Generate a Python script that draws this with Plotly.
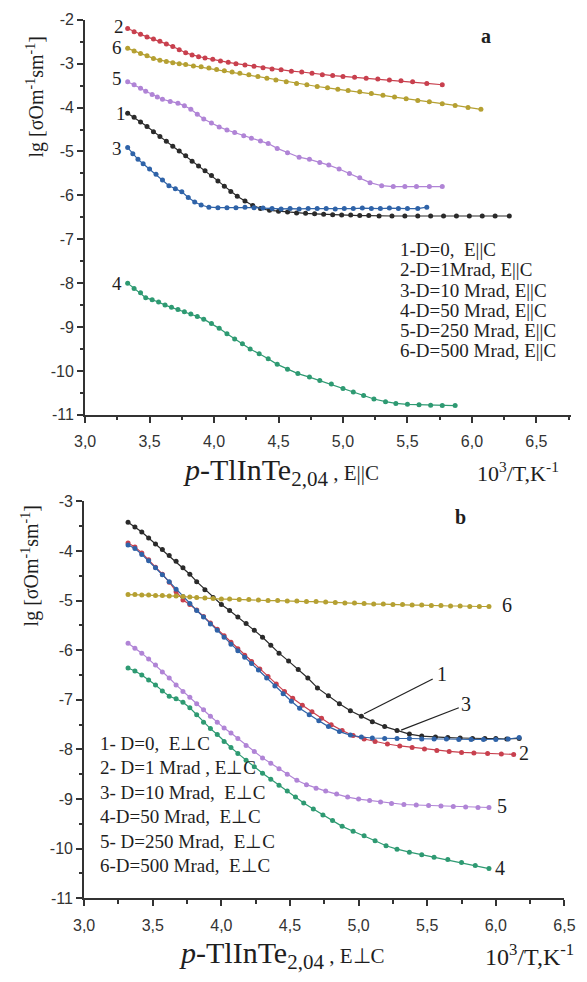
import plotly.graph_objects as go

W, H = 587, 982


def px(x):
    return x / W


def py(y):
    return 1 - y / H


# ---------------- Panel a : E || C ----------------
x_a1 = [3.33, 3.38, 3.43, 3.48, 3.53, 3.58, 3.63, 3.68, 3.73, 3.78, 3.83, 3.88, 3.93, 3.98, 4.03,
        4.08, 4.13, 4.18, 4.24, 4.30, 4.36, 4.43, 4.50, 4.57, 4.64, 4.71, 4.78, 4.85, 4.92, 4.99,
        5.06, 5.13, 5.20, 5.28, 5.38, 5.48, 5.58, 5.68, 5.78, 5.88, 5.98, 6.08, 6.18, 6.29]
y_a1 = [-4.13, -4.22, -4.33, -4.43, -4.55, -4.66, -4.77, -4.88, -4.99, -5.10, -5.22, -5.33, -5.44,
        -5.55, -5.67, -5.79, -5.91, -6.02, -6.13, -6.23, -6.30, -6.34, -6.36, -6.38, -6.40, -6.41,
        -6.42, -6.43, -6.44, -6.45, -6.45, -6.46, -6.46, -6.47, -6.47, -6.47, -6.47, -6.47, -6.47,
        -6.47, -6.47, -6.47, -6.47, -6.47]

x_a2 = [3.33, 3.38, 3.43, 3.48, 3.53, 3.58, 3.63, 3.68, 3.73, 3.78, 3.83, 3.88, 3.93, 3.99, 4.05,
        4.11, 4.17, 4.24, 4.31, 4.38, 4.45, 4.52, 4.60, 4.68, 4.76, 4.84, 4.92, 5.00, 5.09, 5.18,
        5.27, 5.36, 5.45, 5.54, 5.65, 5.77]
y_a2 = [-2.20, -2.27, -2.33, -2.39, -2.44, -2.49, -2.55, -2.61, -2.68, -2.75, -2.80, -2.84, -2.87,
        -2.90, -2.94, -2.97, -3.00, -3.03, -3.06, -3.09, -3.12, -3.14, -3.17, -3.19, -3.22, -3.25,
        -3.27, -3.29, -3.31, -3.33, -3.35, -3.37, -3.39, -3.41, -3.45, -3.48]

x_a3 = [3.33, 3.37, 3.41, 3.45, 3.50, 3.55, 3.60, 3.65, 3.70, 3.75, 3.80, 3.85, 3.90, 3.96, 4.03,
        4.10, 4.17, 4.24, 4.31, 4.38, 4.45, 4.52, 4.59, 4.66, 4.73, 4.80, 4.87, 4.94, 5.01, 5.08,
        5.15, 5.22, 5.29, 5.36, 5.43, 5.50, 5.58, 5.65]
y_a3 = [-4.91, -5.05, -5.18, -5.28, -5.40, -5.52, -5.65, -5.78, -5.85, -5.92, -6.05, -6.15, -6.22,
        -6.27, -6.28, -6.28, -6.28, -6.27, -6.28, -6.29, -6.30, -6.31, -6.30, -6.31, -6.30, -6.30,
        -6.30, -6.31, -6.30, -6.30, -6.29, -6.30, -6.30, -6.29, -6.30, -6.30, -6.30, -6.27]

x_a4 = [3.33, 3.38, 3.43, 3.47, 3.52, 3.57, 3.62, 3.67, 3.72, 3.77, 3.82, 3.87, 3.92, 3.98, 4.04,
        4.10, 4.16, 4.22, 4.28, 4.35, 4.42, 4.49, 4.57, 4.65, 4.74, 4.82, 4.91, 5.00, 5.08, 5.16,
        5.24, 5.33, 5.41, 5.50, 5.59, 5.68, 5.77, 5.87]
y_a4 = [-8.00, -8.12, -8.22, -8.33, -8.38, -8.43, -8.50, -8.55, -8.60, -8.65, -8.70, -8.76, -8.82,
        -8.92, -9.03, -9.15, -9.27, -9.38, -9.50, -9.61, -9.72, -9.85, -9.96, -10.06, -10.14,
        -10.22, -10.30, -10.40, -10.48, -10.56, -10.64, -10.70, -10.74, -10.76, -10.77, -10.78,
        -10.79, -10.79]

x_a5 = [3.33, 3.38, 3.43, 3.47, 3.52, 3.56, 3.60, 3.66, 3.72, 3.77, 3.82, 3.87, 3.92, 3.98, 4.04,
        4.10, 4.16, 4.23, 4.29, 4.36, 4.42, 4.49, 4.57, 4.66, 4.74, 4.82, 4.89, 4.97, 5.05, 5.13,
        5.21, 5.30, 5.39, 5.48, 5.57, 5.67, 5.77]
y_a5 = [-3.41, -3.48, -3.56, -3.63, -3.70, -3.76, -3.81, -3.86, -3.90, -3.96, -4.04, -4.15, -4.26,
        -4.35, -4.44, -4.51, -4.57, -4.64, -4.70, -4.76, -4.82, -4.93, -5.03, -5.13, -5.18, -5.25,
        -5.31, -5.40, -5.50, -5.60, -5.71, -5.78, -5.80, -5.80, -5.80, -5.80, -5.80]

x_a6 = [3.33, 3.38, 3.43, 3.48, 3.53, 3.58, 3.63, 3.68, 3.73, 3.78, 3.84, 3.90, 3.96, 4.02, 4.08,
        4.14, 4.20, 4.27, 4.34, 4.41, 4.48, 4.56, 4.64, 4.72, 4.80, 4.88, 4.96, 5.04, 5.13, 5.22,
        5.31, 5.40, 5.49, 5.58, 5.67, 5.77, 5.87, 5.97, 6.07]
y_a6 = [-2.65, -2.71, -2.77, -2.82, -2.88, -2.92, -2.95, -2.98, -3.00, -3.02, -3.05, -3.07, -3.10,
        -3.13, -3.16, -3.19, -3.22, -3.25, -3.29, -3.33, -3.37, -3.41, -3.45, -3.48, -3.52, -3.55,
        -3.58, -3.61, -3.64, -3.68, -3.72, -3.76, -3.80, -3.84, -3.87, -3.91, -3.95, -4.00, -4.04]

# ---------------- Panel b : E ⊥ C ----------------
x_b1 = [3.32, 3.37, 3.42, 3.47, 3.52, 3.57, 3.62, 3.67, 3.72, 3.77, 3.82, 3.88, 3.94, 4.00, 4.06,
        4.12, 4.18, 4.24, 4.30, 4.36, 4.42, 4.49, 4.56, 4.63, 4.70, 4.78, 4.86, 4.94, 5.02, 5.10,
        5.19, 5.28, 5.37, 5.46, 5.56, 5.65, 5.74, 5.83, 5.92, 6.00, 6.08, 6.17]
y_b1 = [-3.42, -3.52, -3.62, -3.74, -3.86, -3.97, -4.09, -4.21, -4.34, -4.47, -4.62, -4.78, -4.94,
        -5.08, -5.20, -5.33, -5.46, -5.60, -5.74, -5.90, -6.06, -6.22, -6.39, -6.56, -6.76, -6.92,
        -7.08, -7.22, -7.33, -7.44, -7.54, -7.62, -7.69, -7.73, -7.75, -7.76, -7.77, -7.78, -7.78,
        -7.78, -7.79, -7.78]

x_b2 = [3.32, 3.37, 3.42, 3.47, 3.52, 3.57, 3.62, 3.67, 3.72, 3.77, 3.82, 3.87, 3.92, 3.97, 4.02,
        4.07, 4.12, 4.17, 4.22, 4.28, 4.34, 4.40, 4.46, 4.52, 4.59, 4.66, 4.73, 4.80, 4.88, 4.96,
        5.04, 5.12, 5.21, 5.30, 5.39, 5.48, 5.57, 5.66, 5.75, 5.84, 5.94, 6.04, 6.13]
y_b2 = [-3.84, -3.92, -4.04, -4.18, -4.33, -4.47, -4.63, -4.82, -4.99, -5.08, -5.19, -5.32, -5.45,
        -5.58, -5.71, -5.84, -5.97, -6.10, -6.23, -6.38, -6.53, -6.68, -6.83, -6.97, -7.11, -7.24,
        -7.37, -7.50, -7.62, -7.72, -7.79, -7.84, -7.89, -7.93, -7.96, -7.99, -8.02, -8.04, -8.06,
        -8.07, -8.08, -8.09, -8.10]

x_b3 = [3.32, 3.37, 3.42, 3.47, 3.52, 3.57, 3.62, 3.67, 3.72, 3.77, 3.82, 3.87, 3.92, 3.97, 4.02,
        4.07, 4.12, 4.17, 4.22, 4.27, 4.33, 4.39, 4.45, 4.51, 4.57, 4.64, 4.71, 4.78, 4.86, 4.94,
        5.02, 5.10, 5.19, 5.28, 5.37, 5.46, 5.55, 5.64, 5.73, 5.82, 5.91, 6.00, 6.09, 6.17]
y_b3 = [-3.88, -3.95, -4.07, -4.20, -4.34, -4.48, -4.62, -4.77, -4.92, -5.06, -5.20, -5.33, -5.47,
        -5.60, -5.74, -5.88, -6.01, -6.14, -6.27, -6.40, -6.56, -6.72, -6.88, -7.03, -7.17, -7.30,
        -7.42, -7.54, -7.64, -7.71, -7.75, -7.77, -7.78, -7.78, -7.78, -7.79, -7.79, -7.79, -7.80,
        -7.80, -7.80, -7.80, -7.79, -7.76]

x_b4 = [3.32, 3.37, 3.42, 3.47, 3.52, 3.57, 3.62, 3.67, 3.72, 3.77, 3.82, 3.87, 3.92, 3.97, 4.02,
        4.07, 4.12, 4.18, 4.24, 4.30, 4.36, 4.42, 4.48, 4.54, 4.60, 4.67, 4.74, 4.81, 4.88, 4.96,
        5.04, 5.12, 5.20, 5.28, 5.37, 5.46, 5.55, 5.65, 5.75, 5.85, 5.95]
y_b4 = [-6.36, -6.42, -6.50, -6.60, -6.70, -6.82, -6.93, -6.98, -7.05, -7.16, -7.30, -7.45, -7.58,
        -7.70, -7.84, -7.96, -8.08, -8.22, -8.35, -8.48, -8.60, -8.72, -8.84, -8.96, -9.08, -9.20,
        -9.32, -9.43, -9.55, -9.65, -9.74, -9.84, -9.94, -10.01, -10.07, -10.12, -10.17, -10.22,
        -10.28, -10.34, -10.40]

x_b5 = [3.32, 3.37, 3.42, 3.47, 3.52, 3.57, 3.62, 3.67, 3.72, 3.77, 3.82, 3.87, 3.92, 3.97, 4.02,
        4.07, 4.12, 4.18, 4.24, 4.30, 4.36, 4.42, 4.48, 4.55, 4.62, 4.69, 4.76, 4.84, 4.92, 5.00,
        5.08, 5.16, 5.24, 5.33, 5.42, 5.51, 5.60, 5.69, 5.78, 5.87, 5.95]
y_b5 = [-5.86, -5.96, -6.06, -6.18, -6.30, -6.44, -6.56, -6.70, -6.83, -6.95, -7.08, -7.20, -7.33,
        -7.45, -7.57, -7.67, -7.78, -7.92, -8.04, -8.17, -8.28, -8.39, -8.50, -8.62, -8.71, -8.78,
        -8.84, -8.90, -8.96, -9.00, -9.03, -9.06, -9.09, -9.11, -9.12, -9.13, -9.14, -9.15, -9.16,
        -9.17, -9.17]

x_b6 = [3.32, 3.37, 3.42, 3.47, 3.52, 3.57, 3.62, 3.67, 3.72, 3.77, 3.82, 3.88, 3.94, 4.00, 4.06,
        4.13, 4.20, 4.27, 4.34, 4.41, 4.48, 4.55, 4.62, 4.69, 4.76, 4.83, 4.90, 4.97, 5.04, 5.11,
        5.18, 5.25, 5.32, 5.39, 5.46, 5.53, 5.60, 5.67, 5.74, 5.81, 5.88, 5.95]
y_b6 = [-4.88, -4.88, -4.89, -4.89, -4.90, -4.90, -4.91, -4.91, -4.92, -4.93, -4.94, -4.95, -4.96,
        -4.97, -4.97, -4.98, -4.98, -4.99, -5.00, -5.00, -5.01, -5.01, -5.02, -5.02, -5.03, -5.04,
        -5.05, -5.05, -5.06, -5.07, -5.07, -5.08, -5.08, -5.09, -5.09, -5.10, -5.10, -5.11, -5.11,
        -5.12, -5.12, -5.12]

curve_colors = ["#2a2a2a", "#c8404e", "#2f63a8", "#2e9a72", "#b084d6", "#b5a032"]

legend_a = ["1-D=0,\u00a0\u00a0E||C", "2-D=1Mrad, E||C", "3-D=10 Mrad, E||C",
            "4-D=50 Mrad, E||C", "5-D=250 Mrad, E||C", "6-D=500 Mrad, E||C"]
legend_b = ["1- D=0,\u00a0\u00a0E⊥C", "2- D=1 Mrad , E⊥C", "3- D=10 Mrad,\u00a0\u00a0E⊥C",
            "4-D=50 Mrad,\u00a0\u00a0E⊥C", "5- D=250 Mrad,\u00a0\u00a0E⊥C", "6-D=500 Mrad,\u00a0\u00a0E⊥C"]

x_tickvals_a = [3.0, 3.5, 4.0, 4.5, 5.0, 5.5, 6.0, 6.5]
x_ticktext = ["3,0", "3,5", "4,0", "4,5", "5,0", "5,5", "6,0", "6,5"]
x_minor = [3.25, 3.75, 4.25, 4.75, 5.25, 5.75, 6.25, 6.75]
y_tickvals_a = [-11, -10, -9, -8, -7, -6, -5, -4, -3, -2]
y_tickvals_b = [-11, -10, -9, -8, -7, -6, -5, -4, -3]
y_minor_a = [-10.5, -9.5, -8.5, -7.5, -6.5, -5.5, -4.5, -3.5, -2.5]
y_minor_b = [-10.5, -9.5, -8.5, -7.5, -6.5, -5.5, -4.5, -3.5]

series_a = [(x_a1, y_a1), (x_a2, y_a2), (x_a3, y_a3), (x_a4, y_a4), (x_a5, y_a5), (x_a6, y_a6)]
series_b = [(x_b1, y_b1), (x_b2, y_b2), (x_b3, y_b3), (x_b4, y_b4), (x_b5, y_b5), (x_b6, y_b6)]

fig = go.Figure()
for (xs, ys), c in zip(series_a, curve_colors):
    fig.add_trace(go.Scatter(x=xs, y=ys, mode="lines+markers", xaxis="x", yaxis="y",
                             line=dict(color=c, width=1.2), marker=dict(size=5, color=c),
                             showlegend=False, hoverinfo="skip"))
for (xs, ys), c in zip(series_b, curve_colors):
    fig.add_trace(go.Scatter(x=xs, y=ys, mode="lines+markers", xaxis="x2", yaxis="y2",
                             line=dict(color=c, width=1.2), marker=dict(size=5, color=c),
                             showlegend=False, hoverinfo="skip"))

AX = "#333333"
tickfont = dict(family="Liberation Sans, Arial, sans-serif", size=16, color=AX)
serif = "Liberation Serif, Times New Roman, serif"


def xaxis_cfg(domain, rng, anchor, minor_vals):
    return dict(domain=domain, range=rng, anchor=anchor, showline=True, linecolor=AX, linewidth=2,
                ticks="outside", ticklen=6, tickwidth=1.5, tickcolor=AX, ticklabelstandoff=5,
                tickmode="array", tickvals=x_tickvals_a, ticktext=x_ticktext,
                minor=dict(ticks="outside", ticklen=3.5, tickwidth=1.5, tickcolor=AX,
                           tickmode="array", tickvals=minor_vals),
                showgrid=False, zeroline=False, tickfont=tickfont, fixedrange=True)


def yaxis_cfg(domain, rng, anchor, vals, minor_vals):
    return dict(domain=domain, range=rng, anchor=anchor, showline=True, linecolor=AX, linewidth=2,
                ticks="outside", ticklen=6, tickwidth=1.5, tickcolor=AX,
                tickmode="array", tickvals=vals, ticktext=[str(v) for v in vals],
                minor=dict(ticks="outside", ticklen=3.5, tickwidth=1.5, tickcolor=AX,
                           tickmode="array", tickvals=minor_vals),
                showgrid=False, zeroline=False, tickfont=tickfont, fixedrange=True)


fig.update_layout(
    width=W, height=H, margin=dict(l=0, r=0, t=0, b=0),
    paper_bgcolor="white", plot_bgcolor="white",
    xaxis=xaxis_cfg([px(77), px(582)], [3.0, 6.77], "y", x_minor),
    yaxis=yaxis_cfg([py(414), py(12)], [-11, -2], "x", y_tickvals_a, y_minor_a),
    xaxis2=xaxis_cfg([px(76), px(575)], [3.0, 6.5], "y2", x_minor[:-1]),
    yaxis2=yaxis_cfg([py(906), py(502)], [-11, -3], "x2", y_tickvals_b, y_minor_b),
)

TXT = "#1e1e1e"
ann = []


def add_text(x, y, text, size, xanchor="center", yanchor="middle", angle=0, family=serif):
    ann.append(dict(x=px(x), y=py(y), xref="paper", yref="paper", text=text, showarrow=False,
                    xanchor=xanchor, yanchor=yanchor, textangle=angle,
                    font=dict(family=family, size=size, color=TXT)))


# y axis titles
add_text(25, 91, "lg [σOm<sup>-1</sup>sm<sup>-1</sup>]", 20, angle=-90)
add_text(20, 568, "lg [σOm<sup>-1</sup>sm<sup>-1</sup>]", 20, angle=-90)
# x axis titles
add_text(281, 472, "<i>p</i>-TlInTe<sub>2,04</sub><span style='font-size:21px'> , E||C</span>", 30)
add_text(282, 964, "<i>p</i>-TlInTe<sub>2,04</sub><span style='font-size:21px'> , E⊥C</span>", 30)
add_text(527, 472, "10<sup>3</sup>/T,K<sup>-1</sup>", 22)
add_text(587, 964, "10<sup>3</sup>/T,K<sup>-1</sup>", 24, xanchor="right")
# panel letters
add_text(493, 28, "<b>a</b>", 20)
add_text(467, 518, "<b>b</b>", 20)
# curve numbers, panel a
for (x, y), t in zip([(114, 107), (112, 19), (110, 143), (110, 280), (110, 72), (110, 40)],
                     ["1", "2", "3", "4", "5", "6"]):
    add_text(x, y, t, 19)
# curve numbers, panel b
for (x, y), t in zip([(448, 678), (533, 758), (473, 708), (508, 875), (510, 812), (515, 608)],
                     ["1", "2", "3", "4", "5", "6"]):
    add_text(x, y, t, 20)
# legends
for i, t in enumerate(legend_a):
    add_text(402, 246 + i * 20.6, t, 19, xanchor="left")
for i, t in enumerate(legend_b):
    add_text(90, 748 + i * 25, t, 19, xanchor="left")

fig.update_layout(annotations=ann)

# leader lines for labels 1 and 3 in panel b
fig.add_shape(type="line", xref="x2", yref="y2", x0=5.04, y0=-7.28, x1=5.54, y1=-6.58,
              line=dict(color="#222", width=1.2))
fig.add_shape(type="line", xref="x2", yref="y2", x0=5.31, y0=-7.61, x1=5.73, y1=-7.16,
              line=dict(color="#222", width=1.2))

fig.write_html("out.html")
